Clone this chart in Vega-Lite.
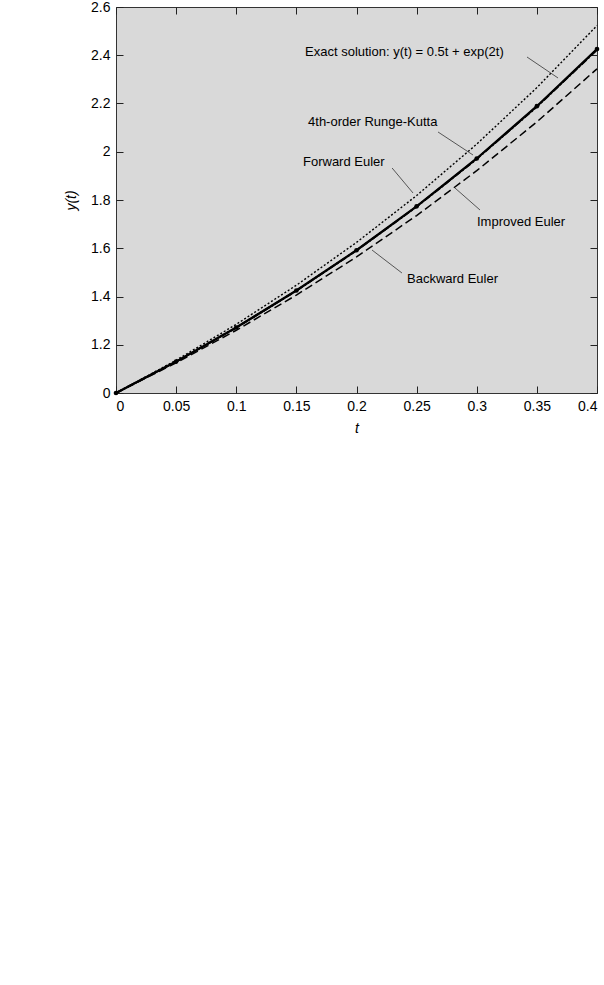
{
  "$schema": "https://vega.github.io/schema/vega-lite/v6.json",
  "width": 481,
  "height": 386,
  "autosize": {"type": "none"},
  "padding": {"left": 116, "top": 7, "right": 7, "bottom": 592},
  "background": "white",
  "config": {
    "font": "Liberation Sans",
    "view": {"fill": "#d9d9d9", "stroke": "#333333", "strokeWidth": 1},
    "axis": {
      "domain": false,
      "grid": false,
      "tickColor": "#222222",
      "tickSize": -7,
      "tickWidth": 1,
      "labelFont": "Liberation Sans",
      "labelFontSize": 14,
      "labelColor": "black",
      "titleFont": "Liberation Sans",
      "titleFontSize": 14,
      "titleFontWeight": "normal",
      "titleFontStyle": "italic",
      "titleColor": "black"
    }
  },
  "datasets": {
    "curves": [
      {"t": 0, "y": 1, "method": "exact"},
      {"t": 0.025, "y": 1.0638, "method": "exact"},
      {"t": 0.05, "y": 1.1302, "method": "exact"},
      {"t": 0.075, "y": 1.1993, "method": "exact"},
      {"t": 0.1, "y": 1.2714, "method": "exact"},
      {"t": 0.125, "y": 1.3465, "method": "exact"},
      {"t": 0.15, "y": 1.4249, "method": "exact"},
      {"t": 0.175, "y": 1.5066, "method": "exact"},
      {"t": 0.2, "y": 1.5918, "method": "exact"},
      {"t": 0.225, "y": 1.6808, "method": "exact"},
      {"t": 0.25, "y": 1.7737, "method": "exact"},
      {"t": 0.275, "y": 1.8708, "method": "exact"},
      {"t": 0.3, "y": 1.9721, "method": "exact"},
      {"t": 0.325, "y": 2.078, "method": "exact"},
      {"t": 0.35, "y": 2.1888, "method": "exact"},
      {"t": 0.375, "y": 2.3045, "method": "exact"},
      {"t": 0.4, "y": 2.4255, "method": "exact"},
      {"t": 0, "y": 1, "method": "rk4"},
      {"t": 0.05, "y": 1.1302, "method": "rk4"},
      {"t": 0.1, "y": 1.2714, "method": "rk4"},
      {"t": 0.15, "y": 1.4249, "method": "rk4"},
      {"t": 0.2, "y": 1.5918, "method": "rk4"},
      {"t": 0.25, "y": 1.7737, "method": "rk4"},
      {"t": 0.3, "y": 1.9721, "method": "rk4"},
      {"t": 0.35, "y": 2.1888, "method": "rk4"},
      {"t": 0.4, "y": 2.4255, "method": "rk4"},
      {"t": 0, "y": 1, "method": "improved"},
      {"t": 0.05, "y": 1.13, "method": "improved"},
      {"t": 0.1, "y": 1.271, "method": "improved"},
      {"t": 0.15, "y": 1.4242, "method": "improved"},
      {"t": 0.2, "y": 1.5909, "method": "improved"},
      {"t": 0.25, "y": 1.7724, "method": "improved"},
      {"t": 0.3, "y": 1.9704, "method": "improved"},
      {"t": 0.35, "y": 2.1866, "method": "improved"},
      {"t": 0.4, "y": 2.4228, "method": "improved"},
      {"t": 0, "y": 1, "method": "forward"},
      {"t": 0.05, "y": 1.125, "method": "forward"},
      {"t": 0.1, "y": 1.26, "method": "forward"},
      {"t": 0.15, "y": 1.406, "method": "forward"},
      {"t": 0.2, "y": 1.5641, "method": "forward"},
      {"t": 0.25, "y": 1.7355, "method": "forward"},
      {"t": 0.3, "y": 1.9216, "method": "forward"},
      {"t": 0.35, "y": 2.1237, "method": "forward"},
      {"t": 0.4, "y": 2.3436, "method": "forward"},
      {"t": 0, "y": 1, "method": "backward"},
      {"t": 0.05, "y": 1.1361, "method": "backward"},
      {"t": 0.1, "y": 1.2846, "method": "backward"},
      {"t": 0.15, "y": 1.4467, "method": "backward"},
      {"t": 0.2, "y": 1.6242, "method": "backward"},
      {"t": 0.25, "y": 1.8185, "method": "backward"},
      {"t": 0.3, "y": 2.0317, "method": "backward"},
      {"t": 0.35, "y": 2.2658, "method": "backward"},
      {"t": 0.4, "y": 2.5231, "method": "backward"}
    ],
    "labels": [
      {"t": 0.1572, "y": 2.4135, "label": "Exact solution: y(t) = 0.5t + exp(2t)"},
      {"t": 0.1597, "y": 2.1233, "label": "4th-order Runge-Kutta"},
      {"t": 0.1555, "y": 1.9575, "label": "Forward Euler"},
      {"t": 0.3002, "y": 1.7088, "label": "Improved Euler"},
      {"t": 0.242, "y": 1.4725, "label": "Backward Euler"}
    ],
    "leaders": [
      {"t": 0.3418, "y": 2.3927, "t2": 0.3676, "y2": 2.3057},
      {"t": 0.2678, "y": 2.0819, "t2": 0.2969, "y2": 1.9865},
      {"t": 0.2296, "y": 1.9326, "t2": 0.247, "y2": 1.829},
      {"t": 0.2819, "y": 1.8497, "t2": 0.3027, "y2": 1.7586},
      {"t": 0.2129, "y": 1.5927, "t2": 0.2378, "y2": 1.4974}
    ]
  },
  "resolve": {"axis": {"x": "independent", "y": "independent"}},
  "layer": [
    {
      "data": {"name": "curves"},
      "transform": [{"filter": "datum.method == 'exact'"}],
      "mark": {"type": "line", "color": "black", "strokeWidth": 1.3},
      "encoding": {
        "x": {
          "field": "t", "type": "quantitative",
          "scale": {"domain": [0, 0.4], "nice": false, "zero": false},
          "axis": {
            "orient": "bottom", "title": "t",
            "values": [0, 0.05, 0.1, 0.15, 0.2, 0.25, 0.3, 0.35, 0.4],
            "labelExpr": "format(datum.value, '.2~f')",
            "labelPadding": 13, "titlePadding": 8
          }
        },
        "y": {
          "field": "y", "type": "quantitative",
          "scale": {"domain": [1, 2.6], "nice": false, "zero": false},
          "axis": {
            "orient": "left", "title": "y(t)",
            "values": [1, 1.2, 1.4, 1.6, 1.8, 2, 2.2, 2.4, 2.6],
            "labelExpr": "datum.value < 1.1 ? '0' : format(datum.value, '.1~f')",
            "labelPadding": 13, "titlePadding": 12
          }
        }
      }
    },
    {
      "data": {"name": "curves"},
      "transform": [{"filter": "datum.method == 'rk4'"}],
      "mark": {"type": "line", "color": "black", "strokeWidth": 2.2, "point": {"filled": true, "color": "black", "size": 22}},
      "encoding": {
        "x": {
          "field": "t", "type": "quantitative",
          "axis": {
            "orient": "top", "title": null, "labels": false,
            "values": [0, 0.05, 0.1, 0.15, 0.2, 0.25, 0.3, 0.35, 0.4]
          }
        },
        "y": {
          "field": "y", "type": "quantitative",
          "axis": {
            "orient": "right", "title": null, "labels": false,
            "values": [1, 1.2, 1.4, 1.6, 1.8, 2, 2.2, 2.4, 2.6]
          }
        }
      }
    },
    {
      "data": {"name": "curves"},
      "transform": [{"filter": "datum.method == 'improved'"}],
      "mark": {"type": "line", "color": "black", "strokeWidth": 2, "strokeDash": [7, 2, 2, 2]},
      "encoding": {
        "x": {"field": "t", "type": "quantitative", "axis": null},
        "y": {"field": "y", "type": "quantitative", "axis": null}
      }
    },
    {
      "data": {"name": "curves"},
      "transform": [{"filter": "datum.method == 'forward'"}],
      "mark": {"type": "line", "color": "black", "strokeWidth": 1.5, "strokeDash": [8, 4]},
      "encoding": {
        "x": {"field": "t", "type": "quantitative", "axis": null},
        "y": {"field": "y", "type": "quantitative", "axis": null}
      }
    },
    {
      "data": {"name": "curves"},
      "transform": [{"filter": "datum.method == 'backward'"}],
      "mark": {"type": "line", "color": "black", "strokeWidth": 1.4, "strokeDash": [2, 2]},
      "encoding": {
        "x": {"field": "t", "type": "quantitative", "axis": null},
        "y": {"field": "y", "type": "quantitative", "axis": null}
      }
    },
    {
      "data": {"name": "leaders"},
      "mark": {"type": "rule", "color": "#333333", "strokeWidth": 0.8},
      "encoding": {
        "x": {"field": "t", "type": "quantitative", "axis": null},
        "y": {"field": "y", "type": "quantitative", "axis": null},
        "x2": {"field": "t2"},
        "y2": {"field": "y2"}
      }
    },
    {
      "data": {"name": "labels"},
      "mark": {"type": "text", "align": "left", "baseline": "middle", "fontSize": 13, "font": "Liberation Sans", "color": "black"},
      "encoding": {
        "x": {"field": "t", "type": "quantitative", "axis": null},
        "y": {"field": "y", "type": "quantitative", "axis": null},
        "text": {"field": "label"}
      }
    }
  ]
}
